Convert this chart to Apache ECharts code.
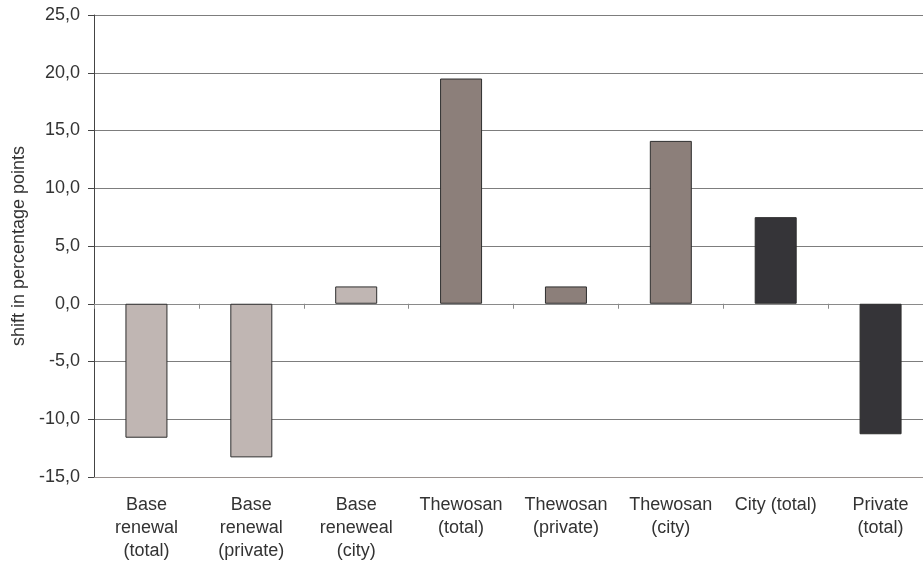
<!DOCTYPE html>
<html>
<head>
<meta charset="utf-8">
<script src="https://cdn.jsdelivr.net/npm/echarts@6/dist/echarts.min.js"></script>
<style>
html,body{margin:0;padding:0;background:#fff;overflow:hidden;}
#chart{width:923px;height:562px;}
</style>
</head>
<body>
<div id="chart"></div>
<script>
var categories = [
  'Base\nrenewal\n(total)',
  'Base\nrenewal\n(private)',
  'Base\nreneweal\n(city)',
  'Thewosan\n(total)',
  'Thewosan\n(private)',
  'Thewosan\n(city)',
  'City (total)',
  'Private\n(total)'
];
var shiftValues = [-11.6, -13.3, 1.5, 19.5, 1.5, 14.1, 7.5, -11.3];
var categoryGroup = [0, 0, 0, 1, 1, 1, 2, 2];
var yAxisTitle = 'shift in percentage points';

var groupColors = ['#c0b6b3', '#8c7f7a', '#353438'];

var chart = echarts.init(document.getElementById('chart'));
var font = 'Liberation Sans, Arial, sans-serif';
chart.setOption({
  animation: false,
  backgroundColor: '#fff',
  grid: {
    left: 94, top: 15, width: 839, height: 462,
    containLabel: false, outerBoundsMode: 'none'
  },
  xAxis: [
    {
      type: 'category',
      data: categories,
      position: 'bottom',
      axisLine: { show: true, onZero: false, lineStyle: { color: '#9a928f', width: 1 } },
      axisTick: { show: false },
      axisLabel: {
        interval: 0, margin: 17, fontFamily: font, fontSize: 18,
        color: '#333', lineHeight: 23, align: 'center'
      },
      splitLine: { show: false }
    },
    {
      type: 'category',
      data: categories,
      position: 'bottom',
      axisLine: { show: true, onZero: true, lineStyle: { color: '#8a8a8a', width: 1 } },
      axisTick: { show: true, length: 5, lineStyle: { color: '#8a8a8a' } },
      axisLabel: { show: false },
      splitLine: { show: false }
    }
  ],
  yAxis: {
    type: 'value',
    min: -15, max: 25, interval: 5,
    name: yAxisTitle,
    nameLocation: 'middle',
    nameGap: 66,
    nameRotate: 90,
    nameTextStyle: { fontFamily: font, fontSize: 18, color: '#333' },
    axisLine: { show: true, lineStyle: { color: '#444', width: 1 } },
    axisTick: { show: true, length: 6, lineStyle: { color: '#444' } },
    axisLabel: {
      margin: 14, fontFamily: font, fontSize: 18, color: '#333',
      formatter: function (v) { return v.toFixed(1).replace('.', ','); }
    },
    splitLine: { show: true, lineStyle: { color: '#7d7d7d', width: 1 } }
  },
  series: [{
    type: 'bar',
    xAxisIndex: 0,
    barWidth: 42,
    data: shiftValues.map(function (v, i) {
      return {
        value: v,
        itemStyle: {
          color: groupColors[categoryGroup[i]],
          borderColor: '#2e2e2e',
          borderWidth: 1
        }
      };
    })
  }]
});
</script>
</body>
</html>
